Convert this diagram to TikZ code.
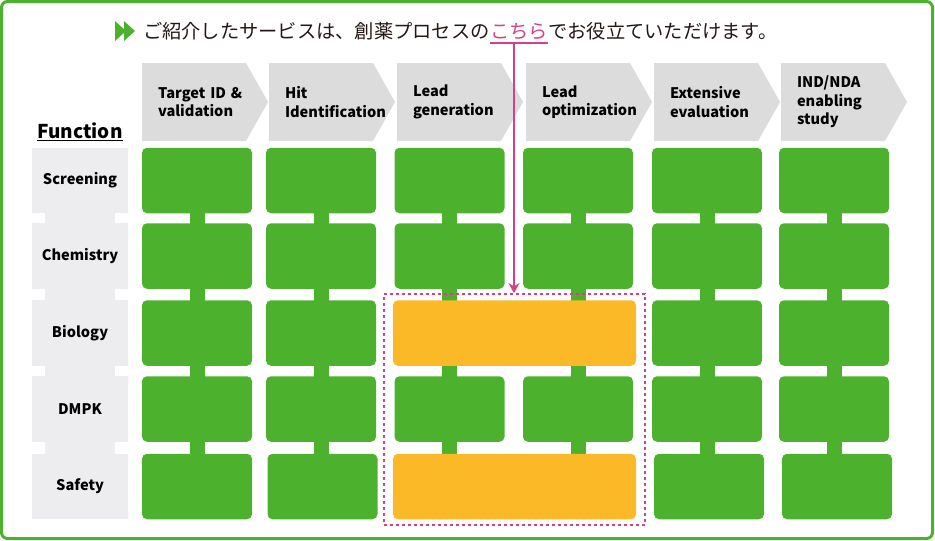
\documentclass[tikz,border=0pt]{standalone}
\usepackage{fontspec}
\setmainfont{Noto Sans CJK JP}
\usepackage{xcolor}
\usepackage{tikz}
\usetikzlibrary{shapes.symbols, arrows.meta}

\definecolor{boxgreen}{RGB}{76,178,46}
\definecolor{boxorange}{RGB}{251,185,39}
\definecolor{chevgray}{RGB}{220,220,220}
\definecolor{labelgray}{RGB}{237,237,239}
\definecolor{linkpink}{RGB}{214,64,136}
\definecolor{textdark}{RGB}{35,24,21}

\pgfdeclarelayer{back}
\pgfsetlayers{back,main}

\begin{document}
\begin{tikzpicture}[x=1pt, y=-1pt,
        frame/.style={draw=boxgreen, line width=3pt, rounded corners=6pt},
        cell/.style={fill=boxgreen, rounded corners=5pt, minimum width=110pt, minimum height=65.5pt, inner sep=0pt},
        wide/.style={fill=boxorange, rounded corners=5pt, minimum width=243pt, minimum height=65.5pt, inner sep=0pt},
        fn/.style={fill=labelgray, minimum width=96pt, minimum height=65.5pt, inner sep=0pt, text=black, font=\bfseries\fontsize{14.6}{17}\selectfont},
        phase/.style={shape=signal, signal to=east, signal from=nowhere, signal pointer angle=121, fill=chevgray, text width=72pt, inner xsep=16pt, inner ysep=0pt, minimum height=78pt, align=left, text=black, font=\bfseries\fontsize{14.6}{18.5}\selectfont},
        stem/.style={draw=boxgreen, line width=15pt},
        fnstem/.style={draw=labelgray, line width=70pt},
        headtxt/.style={inner sep=0pt, anchor=base west, text=textdark, font=\fontsize{19.25}{22}\selectfont},
        focus/.style={draw=linkpink, line width=1.8pt, dash pattern=on 3pt off 3pt, minimum width=261pt, minimum height=231pt, inner sep=0pt},
        linkarrow/.style={draw=linkpink, line width=1.5pt, -{Stealth[length=10pt, width=11pt]}}
    ]
        \useasboundingbox (0,0) rectangle (935,541);
        \draw[frame] (1.5,1.5) rectangle (932.5,538.5);

        \fill[boxgreen] (115,21) -- (126,31) -- (115,41) -- cycle;
        \fill[boxgreen] (124,21) -- (135,31) -- (124,41) -- cycle;
        \node[headtxt] (head1) at (143,38.5) {ご紹介したサービスは、創薬プロセスの};
        \node[headtxt, text=linkpink] (link) at (head1.base east) {こちら};
        \node[headtxt] (head2) at (link.base east) {でお役立ていただけます。};
        \draw[linkpink, line width=2pt] ([yshift=-3pt]link.south west) -- ([yshift=-3pt]link.south east);

        \node[phase] (tgt) at (194,102) {Target~ID~\&\\validation};
        \node[phase] (hit) at (321,102) {Hit\\Identification};
        \node[phase] (lgen) at (449,102) {Lead\\generation};
        \node[phase] (lopt) at (578,102) {Lead\\optimization};
        \node[phase] (ext) at (706,102) {Extensive\\evaluation};
        \node[phase] (ind) at (833,102) {IND/NDA\\enabling\\study};

        \node[text=black, font=\bfseries\fontsize{19}{22}\selectfont] (func) at (80,132) {\underline{Function}};

        \node[fn] (lscr)  at (80,180.5) {Screening};
        \node[fn] (lchem) at (80,256)   {Chemistry};
        \node[fn] (lbio)  at (80,333)   {Biology};
        \node[fn] (ldmpk) at (80,409)   {DMPK};
        \node[fn] (lsaf)  at (80,486.5) {Safety};

        \node[cell] (scr1) at (197,180.5) {};
        \node[cell] (scr2) at (321,180.5) {};
        \node[cell] (scr3) at (449.5,180.5) {};
        \node[cell] (scr4) at (578,180.5) {};
        \node[cell] (scr5) at (707,180.5) {};
        \node[cell] (scr6) at (834,180.5) {};

        \node[cell] (chem1) at (197,256) {};
        \node[cell] (chem2) at (321,256) {};
        \node[cell] (chem3) at (449.5,256) {};
        \node[cell] (chem4) at (578,256) {};
        \node[cell] (chem5) at (707,256) {};
        \node[cell] (chem6) at (834,256) {};

        \node[cell] (bio1)  at (197,333) {};
        \node[cell] (bio2)  at (321,333) {};
        \node[wide] (bio34) at (514.5,333) {};
        \node[cell] (bio5)  at (707,333) {};
        \node[cell] (bio6)  at (834,333) {};

        \node[cell] (dmpk1) at (197,409) {};
        \node[cell] (dmpk2) at (321,409) {};
        \node[cell] (dmpk3) at (449.5,409) {};
        \node[cell] (dmpk4) at (578,409) {};
        \node[cell] (dmpk5) at (707,409) {};
        \node[cell] (dmpk6) at (834,409) {};

        \node[cell] (saf1)  at (197,486.5) {};
        \node[cell] (saf2)  at (322.5,486.5) {};
        \node[wide] (saf34) at (514.5,486.5) {};
        \node[cell] (saf5)  at (709,486.5) {};
        \node[cell] (saf6)  at (837,486.5) {};

        \node[focus] (zone) at (514.5,409.5) {};
        \draw[linkarrow] ([xshift=-5pt, yshift=-3pt]link.south) -- ([xshift=-5pt]link.south |- zone.north);

        \begin{pgfonlayer}{back}
            \draw[fnstem] (lscr.center) -- (lsaf.center);
            \draw[stem] (scr1.center) -- (saf1.center);
            \draw[stem] (scr2.center) -- (scr2.center |- saf2.center);
            \draw[stem] (scr3.center) -- (scr3.center |- saf34.center);
            \draw[stem] (scr4.center) -- (scr4.center |- saf34.center);
            \draw[stem] (scr5.center) -- (scr5.center |- saf5.center);
            \draw[stem] (scr6.center) -- (scr6.center |- saf6.center);
        \end{pgfonlayer}
    \end{tikzpicture}
\end{document}
